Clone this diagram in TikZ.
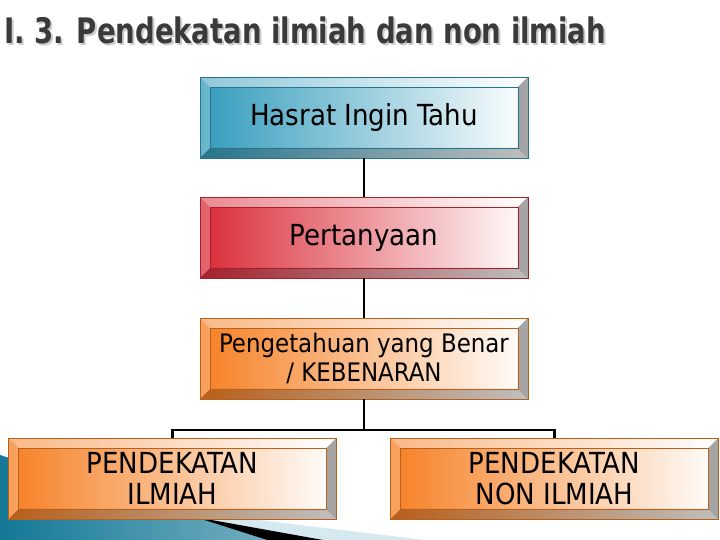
\documentclass[tikz,border=0pt]{standalone}
\usepackage{fontspec}
\setmainfont{DejaVu Sans Condensed}
\usetikzlibrary{positioning}
\definecolor{tealbox}{RGB}{52,156,188}
\definecolor{redbox}{RGB}{218,44,56}
\definecolor{orangebox}{RGB}{246,128,36}
\definecolor{titlegray}{RGB}{58,58,58}
\definecolor{swoosh}{RGB}{20,120,150}
\definecolor{swooshlight}{RGB}{214,233,240}
\newcommand{\boxfont}{\fontsize{16.5}{18}\selectfont}
\newcommand{\titlefont}{\fontsize{20}{24}\selectfont\bfseries}
\newcommand{\titletext}{\scalebox{0.87}[1]{I. 3. Pendekatan ilmiah dan non ilmiah}}
\tikzset{
  bevel/.style={draw=#1!75!black, line width=0.5pt, left color=#1, right color=white,
    minimum width=6.56cm, minimum height=1.62cm, inner sep=0pt, align=center, font=\boxfont,
    path picture={
      \coordinate (nw) at (path picture bounding box.north west);
      \coordinate (ne) at (path picture bounding box.north east);
      \coordinate (sw) at (path picture bounding box.south west);
      \coordinate (se) at (path picture bounding box.south east);
      \fill[white,opacity=.45] (nw) -- (ne) -- ([shift={(-.2cm,-.2cm)}]ne) -- ([shift={(.2cm,-.2cm)}]nw) -- cycle;
      \fill[white,opacity=.25] (nw) -- (sw) -- ([shift={(.2cm,.2cm)}]sw) -- ([shift={(.2cm,-.2cm)}]nw) -- cycle;
      \fill[black,opacity=.25] (sw) -- (se) -- ([shift={(-.2cm,.2cm)}]se) -- ([shift={(.2cm,.2cm)}]sw) -- cycle;
      \fill[black,opacity=.35] (ne) -- (se) -- ([shift={(-.2cm,.2cm)}]se) -- ([shift={(-.2cm,-.2cm)}]ne) -- cycle;
      \draw[#1!75!black,line width=.4pt] ([shift={(.2cm,-.2cm)}]nw) rectangle ([shift={(-.2cm,.2cm)}]se);
    }},
  link/.style={line width=1.7pt}
}
\begin{document}
\begin{tikzpicture}[x=0.02cm,y=-0.02cm]
\useasboundingbox (0,0) rectangle (720,540);
\fill[white] (0,0) rectangle (720,540);
% slide decoration
\fill[swooshlight] (150,507) -- (425,540) -- (150,540) -- cycle;
\fill[black] (100,500) -- (323,540) -- (100,540) -- cycle;
\shade[left color=swoosh, right color=swoosh!60!white] (0,455) -- (267,540) -- (0,540) -- cycle;
% title
\node[anchor=west, font=\titlefont, text=black!20, inner sep=0pt] (titleshadow) at (6,32) {\titletext};
\node[anchor=west, font=\titlefont, text=titlegray, inner sep=0pt] (title) at (4,30) {\titletext};
% boxes
\node[bevel=tealbox] (hasrat) at (364,117.5) {Hasrat Ingin Tahu};
\node[bevel=redbox] (tanya) at (364,237.5) {Pertanyaan};
\node[bevel=orangebox, font=\fontsize{14.5}{17}\selectfont] (benar) at (364,358.5) {Pengetahuan yang Benar\\/ KEBENARAN};
\coordinate (split) at (364,430);
\draw[link] (hasrat) -- (tanya);
\draw[link] (tanya) -- (benar);
\draw[link] (benar) -- (split);
\node[bevel=orangebox] (ilmiah) at (172.5,478.5) {PENDEKATAN\\ILMIAH};
\node[bevel=orangebox] (nonilmiah) at (554.5,478.5) {PENDEKATAN\\NON ILMIAH};
\draw[link] (ilmiah.north) |- (split) -| (nonilmiah.north);
\end{tikzpicture}
\end{document}
